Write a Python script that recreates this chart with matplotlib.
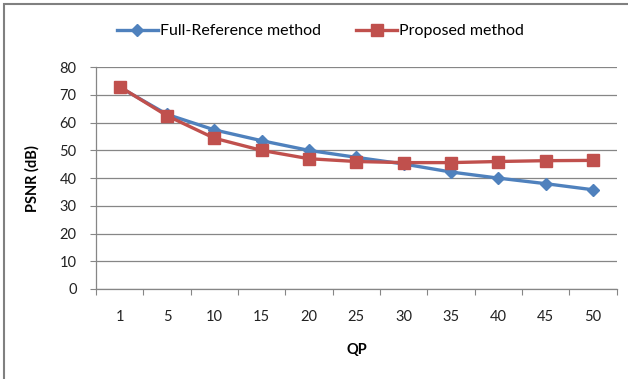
import matplotlib.pyplot as plt
from matplotlib.patches import Rectangle

# PSNR versus QP for the two quality estimation methods
qp_labels = ["1", "5", "10", "15", "20", "25", "30", "35", "40", "45", "50"]
full_reference = [72.8, 63.0, 57.4, 53.5, 50.0, 47.5, 45.1, 42.2, 40.0, 38.0, 35.8]
proposed = [73.0, 62.5, 54.4, 50.0, 47.0, 46.0, 45.6, 45.6, 46.0, 46.3, 46.4]

BLUE = "#4F81BD"
RED = "#C0504D"
GRID = "#868686"

plt.rcParams["font.family"] = ["Lato", "DejaVu Sans"]

fig = plt.figure(figsize=(6.28, 3.79), dpi=100)
ax = fig.add_axes([0.153, 0.2375, 0.829, 0.585])

x = range(len(qp_labels))
ax.plot(x, full_reference, color=BLUE, lw=2.4, marker="D", ms=6.5,
        label="Full-Reference method", zorder=3)
ax.plot(x, proposed, color=RED, lw=2.4, marker="s", ms=9,
        label="Proposed method", zorder=4)

ax.set_ylim(0, 80)
ax.set_yticks(range(0, 81, 10))
ax.set_xlim(-0.5, len(qp_labels) - 0.5)
ax.set_xticks(list(x))
ax.set_xticklabels(qp_labels)
ax.set_xticks([i - 0.5 for i in range(len(qp_labels) + 1)], minor=True)

ax.tick_params(axis="x", which="major", length=0, pad=15, labelsize=10.5,
               colors="#222222")
ax.tick_params(axis="x", which="minor", length=4, direction="out",
               color=GRID, width=0.8)
ax.tick_params(axis="y", length=4, color=GRID, width=0.8, pad=10,
               labelsize=10.5, colors="#222222")

ax.grid(axis="y", color=GRID, lw=0.9)
ax.set_axisbelow(True)
for side in ("top", "right"):
    ax.spines[side].set_visible(False)
for side in ("left", "bottom"):
    ax.spines[side].set_color(GRID)
    ax.spines[side].set_linewidth(0.9)

ax.set_xlabel("QP", fontweight="bold", fontsize=10.5, labelpad=14)
ax.set_ylabel("PSNR (dB)", fontweight="bold", fontsize=10.5, labelpad=14)

fig.legend(loc="center", bbox_to_anchor=(0.51, 0.918), ncol=2, frameon=False,
           fontsize=11.5, handlelength=2.6, columnspacing=2.2,
           handletextpad=0.1)

# chart border
fig.add_artist(Rectangle((4 / 628, -0.05), 1.2, 1.05 - 4 / 379,
                         transform=fig.transFigure, fill=False,
                         edgecolor="#808080", lw=1.5))

fig.savefig("out.png", dpi=100)
